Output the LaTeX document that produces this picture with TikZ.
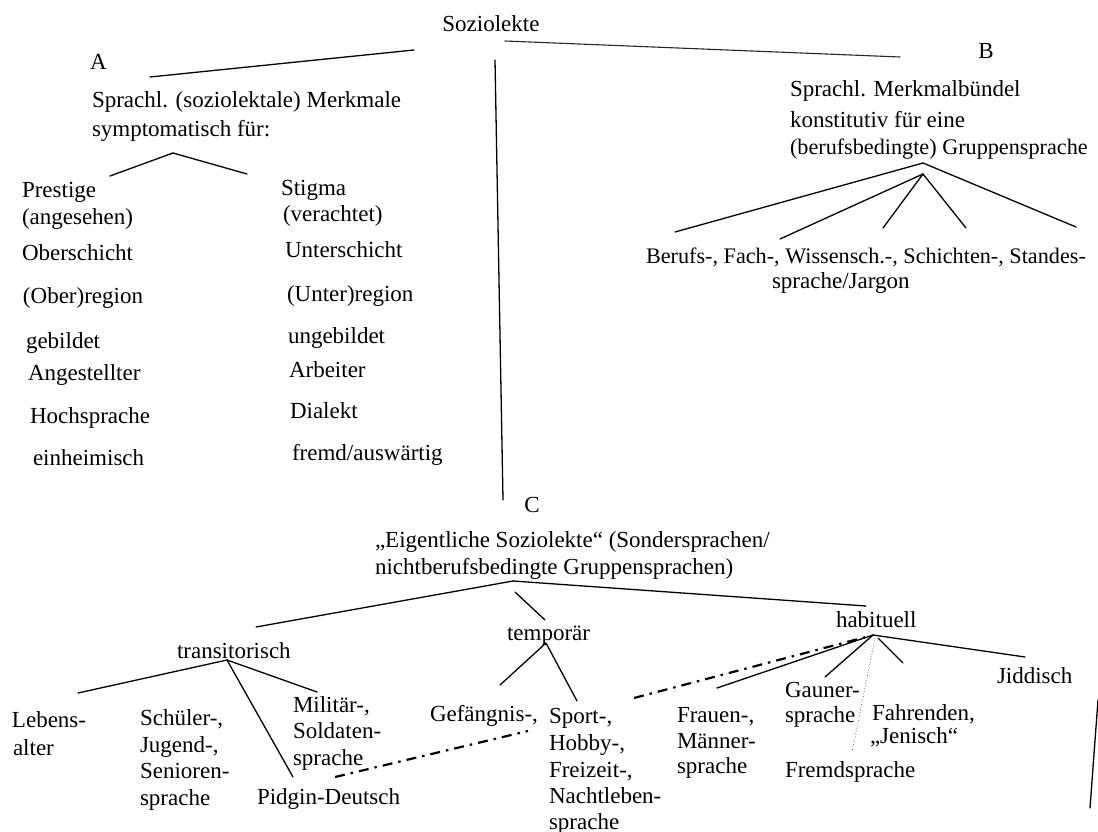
\documentclass[tikz,border=0pt]{standalone}
\usepackage{fontspec}
\setmainfont{Liberation Serif}
\begin{document}
\begin{tikzpicture}[x=1pt,y=-1pt,
  lbl/.style={font=\fontsize{23}{27}\selectfont, inner sep=0pt, outer sep=0pt, anchor=base west},
  lblB/.style={lbl, font=\fontsize{22.2}{27}\selectfont},
  conn/.style={line width=1.3pt, line cap=round},
  dashdot/.style={line width=2.2pt, dash pattern=on 10pt off 6pt on 2.5pt off 6pt},
  dotline/.style={line width=0.7pt, dotted, black!70}]
\useasboundingbox[fill=white] (0,0) rectangle (1098,832);

% ---------- top ----------
\node[lbl, anchor=base] (soz) at (491,32) {Soziolekte};
\coordinate (sozL) at (414,50);
\coordinate (sozR) at (505,41);
\coordinate (sozM) at (495,60);
\node[lbl] (A) at (90,70) {A};
\coordinate (Aend) at (150,77);
\coordinate (Bend) at (900,57);
\coordinate (Ctop) at (503,500);
\draw[conn] (sozL) -- (Aend);
\draw[conn, line width=1.1pt, black!85] (sozR) -- (Bend);
\draw[conn] (sozM) -- (Ctop);

% ---------- A ----------
\node[lbl] (a1) at (92,108) {Sprachl. (soziolektale) Merkmale};
\node[lbl] (a2) at (92,137) {symptomatisch für:};
\coordinate (aApex) at (173,153);
\coordinate (aL) at (110,176);
\coordinate (aR) at (247,174);
\draw[conn] (aApex) -- (aL);
\draw[conn] (aApex) -- (aR);

\node[lbl] (p1) at (22,197) {Prestige};
\node[lbl] (p2) at (22,224) {(angesehen)};
\node[lbl] (p3) at (22,260) {Oberschicht};
\node[lbl] (p4) at (23,303) {(Ober)region};
\node[lbl] (p5) at (26,348) {gebildet};
\node[lbl] (p6) at (28,380) {Angestellter};
\node[lbl] (p7) at (30,423) {Hochsprache};
\node[lbl] (p8) at (33,465) {einheimisch};

\node[lbl] (s1) at (281,195) {Stigma};
\node[lbl] (s2) at (283,222) {(verachtet)};
\node[lbl] (s3) at (285,257) {Unterschicht};
\node[lbl] (s4) at (287,301) {(Unter)region};
\node[lbl] (s5) at (288,343) {ungebildet};
\node[lbl] (s6) at (289,377) {Arbeiter};
\node[lbl] (s7) at (290,418) {Dialekt};
\node[lbl] (s8) at (292,460) {fremd/auswärtig};

% ---------- B ----------
\node[lbl, anchor=base] (B) at (986,59) {B};
\node[lbl] (b1) at (790,97) {Sprachl. Merkmalbündel};
\node[lbl] (b2) at (790,128) {konstitutiv für eine};
\node[lblB] (b3) at (790,155) {(berufsbedingte) Gruppensprache};
\coordinate (bApexO) at (923,163);
\coordinate (bApexI) at (923,174);
\coordinate (bE1) at (675,232);
\coordinate (bE2) at (780,239);
\coordinate (bE3) at (883,228);
\coordinate (bE4) at (966,228);
\coordinate (bE5) at (1076,227);
\draw[conn] (bApexO) -- (bE1);
\draw[conn] (bApexO) -- (bE5);
\draw[conn] (bApexI) -- (bE2);
\draw[conn] (bApexI) -- (bE3);
\draw[conn] (bApexI) -- (bE4);
\node[lblB] (b4) at (646,263) {Berufs-, Fach-, Wissensch.-, Schichten-, Standes-};
\node[lbl] (b5) at (772,288) {sprache/Jargon};

% ---------- C ----------
\node[lbl, anchor=base] (C) at (532,512) {C};
\node[lbl] (c1) at (375,547) {„Eigentliche Soziolekte“ (Sondersprachen/};
\node[lbl] (c2) at (375,574) {nichtberufsbedingte Gruppensprachen)};
\coordinate (cApex) at (513,581);
\coordinate (cL) at (256,627);
\coordinate (cR) at (866,606);
\coordinate (cM1) at (515,592);
\coordinate (cM2) at (545,620);
\draw[conn] (cApex) -- (cL);
\draw[conn] (cApex) -- (cR);
\draw[conn] (cM1) -- (cM2);

\node[lbl] (tr) at (177,658) {transitorisch};
\node[lbl] (te) at (507,640) {temporär};
\node[lbl] (ha) at (836,627) {habituell};

% transitorisch branch
\coordinate (trApex) at (227,660);
\coordinate (trE1) at (78,693);
\coordinate (trE2) at (317,692);
\coordinate (trE3) at (293,777);
\draw[conn] (trApex) -- (trE1);
\draw[conn] (trApex) -- (trE2);
\draw[conn] (trApex) -- (trE3);

\node[lbl] (l1) at (12,727) {Lebens-};
\node[lbl] (l2) at (13,755) {alter};
\node[lbl] (j1) at (140,725) {Schüler-,};
\node[lbl] (j2) at (140,752) {Jugend-,};
\node[lbl] (j3) at (140,778) {Senioren-};
\node[lbl] (j4) at (140,805) {sprache};
\node[lbl] (m1) at (293,712) {Militär-,};
\node[lbl] (m2) at (293,738) {Soldaten-};
\node[lbl] (m3) at (293,765) {sprache};
\node[lbl] (pd) at (257,804) {Pidgin-Deutsch};

% temporaer branch
\coordinate (teApex) at (546,643);
\coordinate (teE1) at (500,685);
\coordinate (teE2) at (577,701);
\draw[conn] (teApex) -- (teE1);
\draw[conn] (teApex) -- (teE2);
\node[lbl] (g1) at (430,721) {Gefängnis-,};
\node[lbl] (sp1) at (549,723) {Sport-,};
\node[lbl] (sp2) at (549,750) {Hobby-,};
\node[lbl] (sp3) at (549,777) {Freizeit-,};
\node[lbl] (sp4) at (549,803) {Nachtleben-};
\node[lbl] (sp5) at (549,829) {sprache};

% dash-dot links
\coordinate (dd1a) at (335,777);
\coordinate (dd1b) at (528,731);
\coordinate (dd2a) at (634,698);
\coordinate (dd2b) at (866,637);
\draw[dashdot] (dd1a) -- (dd1b);
\draw[dashdot] (dd2a) -- (dd2b);

% habituell branch
\coordinate (haApex) at (873,635);
\coordinate (haE1) at (717,688);
\coordinate (haE2) at (825,677);
\coordinate (haS3) at (878,638);
\coordinate (haE3) at (903,663);
\coordinate (haE4) at (1025,657);
\coordinate (haD1) at (875,638);
\coordinate (haD2) at (852,752);
\draw[conn] (haApex) -- (haE1);
\draw[conn] (haApex) -- (haE2);
\draw[conn] (haS3) -- (haE3);
\draw[conn] (haApex) -- (haE4);
\draw[dotline] (haD1) -- (haD2);

\node[lbl] (f1) at (677,722) {Frauen-,};
\node[lbl] (f2) at (677,748) {Männer-};
\node[lbl] (f3) at (677,773) {sprache};
\node[lbl] (ga1) at (785,697) {Gauner-};
\node[lbl] (ga2) at (785,722) {sprache};
\node[lbl] (fa1) at (872,720) {Fahrenden,};
\node[lbl] (fa2) at (870,743) {„Jenisch“};
\node[lbl] (fr) at (785,777) {Fremdsprache};
\node[lbl] (ji) at (997,683) {Jiddisch};

\coordinate (rl1) at (1098,700);
\coordinate (rl2) at (1090,808);
\draw[conn] (rl1) -- (rl2);
\end{tikzpicture}
\end{document}
